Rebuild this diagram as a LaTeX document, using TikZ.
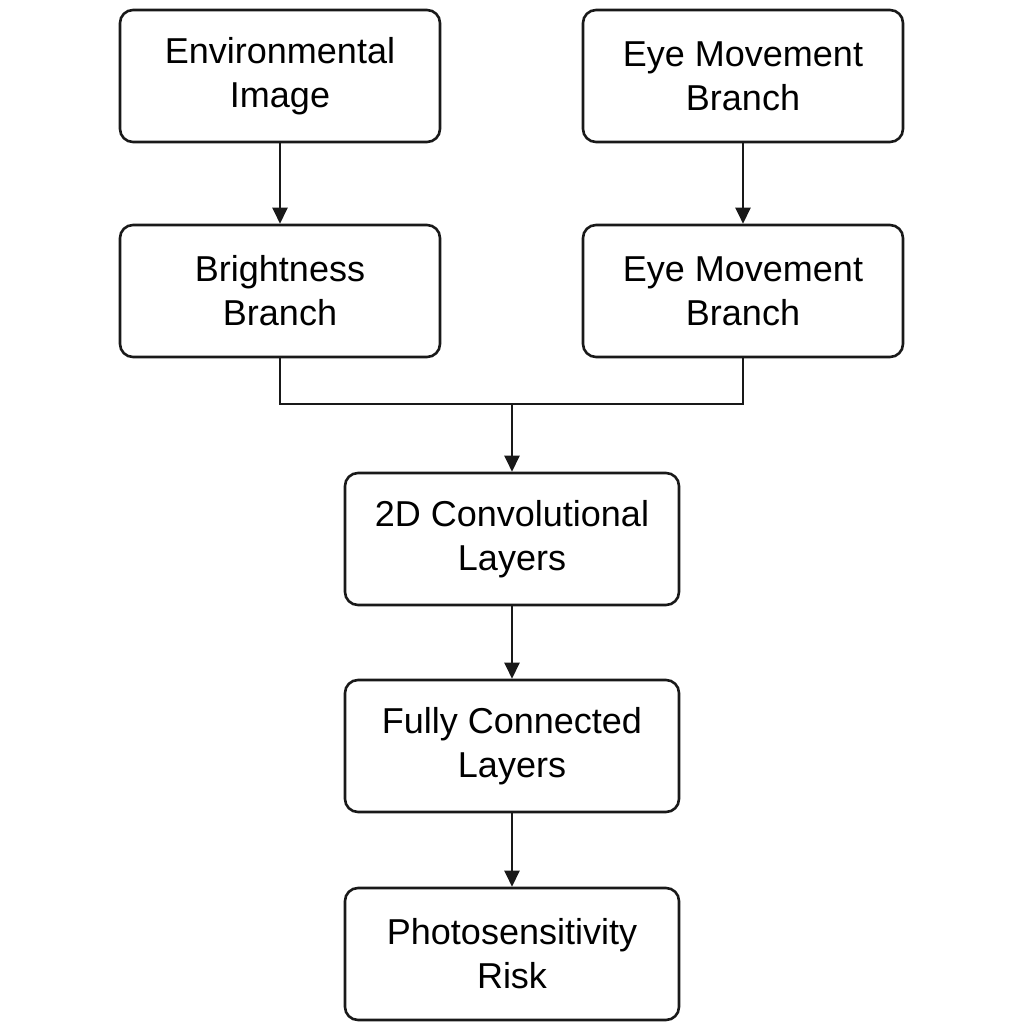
\documentclass[tikz,border=0pt]{standalone}
\usepackage{fontspec}
\setmainfont{Liberation Sans}
\usetikzlibrary{arrows.meta}
\begin{document}
\begin{tikzpicture}[x=1pt,y=-1pt,
  box/.style={draw=black!90, line width=2.6pt, rounded corners=13pt, align=center,
    font=\fontsize{36}{44}\selectfont, inner sep=0pt, minimum height=132pt},
  wbox/.style={box, minimum width=320pt},
  cbox/.style={box, minimum width=334pt},
  arr/.style={draw=black!90, line width=2.4pt, -{Triangle[length=16pt,width=15pt]}},
  con/.style={draw=black!90, line width=2.4pt}]
\useasboundingbox (0,0) rectangle (1024,1024);
\node[wbox] (env) at (280,76) {Environmental\\Image};
\node[wbox] (eye1) at (743,76) {Eye Movement\\Branch};
\node[wbox] (bright) at (280,291) {Brightness\\Branch};
\node[wbox] (eye2) at (743,291) {Eye Movement\\Branch};
\node[cbox] (conv) at (512,539) {2D Convolutional\\Layers};
\node[cbox] (fc) at (512,746) {Fully Connected\\Layers};
\node[cbox] (risk) at (512,954) {Photosensitivity\\Risk};
\coordinate (j) at (512,404);
\draw[arr] (env) -- (bright);
\draw[arr] (eye1) -- (eye2);
\draw[con] (bright.south) |- (j) -| (eye2.south);
\draw[arr] (j) -- (conv.north);
\draw[arr] (conv) -- (fc);
\draw[arr] (fc) -- (risk);
\end{tikzpicture}
\end{document}
